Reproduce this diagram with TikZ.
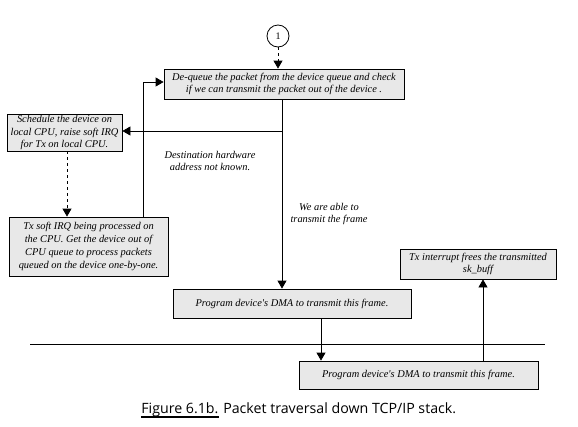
\documentclass[tikz,border=0pt]{standalone}
\usepackage{fontspec}
\setmainfont{Liberation Serif}
\newfontfamily\capfont{Open Sans}
\usetikzlibrary{arrows.meta}

\begin{document}
\begin{tikzpicture}[x=1pt, y=-1pt, line width=0.8pt,
		main/.style = {draw, rectangle, fill=black!9, inner sep=0pt, align=center, font=\itshape\fontsize{10.4}{12.8}\selectfont},
		note/.style = {align=center, font=\itshape\fontsize{10.4}{12.8}\selectfont},
		>={Triangle[length=8pt, width=9pt]}]
			
			\useasboundingbox (0,0) rectangle (578,426);
			
			\node[draw, circle, fill=white, minimum size=22pt, inner sep=0pt] (1) at (278,36) {1};
			\node[main, minimum width=240pt, minimum height=30pt] (2) at (284,84) {De-queue the packet from the device queue and check\\ if we can transmit the packet out of the device .};
			
			\node[main, minimum width=115pt, minimum height=37pt] (3) at (64.5,132.5) {Schedule the device on\\ local CPU, raise soft IRQ\\ for Tx on local CPU.};
			\node[main, minimum width=159pt, minimum height=59pt] (4) at (88.5,246.5) {Tx soft IRQ being processed on\\ the CPU. Get the device out of\\ CPU queue to process packets\\ queued on the device one-by-one.};
			
			\node[main, minimum width=238pt, minimum height=29pt] (5) at (292,303.5) {Program device\textquotesingle s DMA to transmit this frame.};
			\node[main, minimum width=239pt, minimum height=28pt] (6) at (418.5,375) {Program device\textquotesingle s DMA to transmit this frame.};
			\node[main, minimum width=156pt, minimum height=30pt] (7) at (478,264) {Tx interrupt frees the transmitted\\ sk\_buff};
			
			\node[note] (l1) at (210,161) {Destination hardware\\ address not known.};
			\node[note] (l2) at (329,214) {We are able to\\ transmit the frame};
			
			
			\coordinate (a) at (282,131);
			\coordinate (b) at (143,82);
			\coordinate (c) at (321,344);
			\coordinate (d) at (483,320);
			\coordinate (e) at (67,180);
			\coordinate (s1) at (30,344);
			\coordinate (s2) at (545,344);
			
			
			\draw[->, dashed] (1) -- (1 |- 2.north);
			\draw[->] (a |- 2.south) -- (a |- 5.north);
			\draw[->] (a) -- (a -| 3.east);
			\draw[->, dashed] (e |- 3.south) -- (e |- 4.north);
			\draw[->] (b |- 4.north) -- (b) -- (2.west |- b);
			\draw[->] (c |- 5.south) -- (c |- 6.north);
			\draw[->] (d |- 6.north) -- (d |- 7.south);
			\draw (s1) -- (s2);
			
			
			\node[anchor=base west, inner sep=0pt, font=\capfont\fontsize{14.2}{17}\selectfont] (f) at (141,413) {Figure 6.1b.};
			\node[anchor=base west, inner sep=0pt, font=\capfont\fontsize{14.2}{17}\selectfont] (g) at ([xshift=4pt]f.base east) {Packet traversal down TCP/IP stack.};
			\draw[line width=1.8pt] ([yshift=-4pt]f.base west) -- ([yshift=-4pt]f.base east);
			
		\end{tikzpicture}
\end{document}
